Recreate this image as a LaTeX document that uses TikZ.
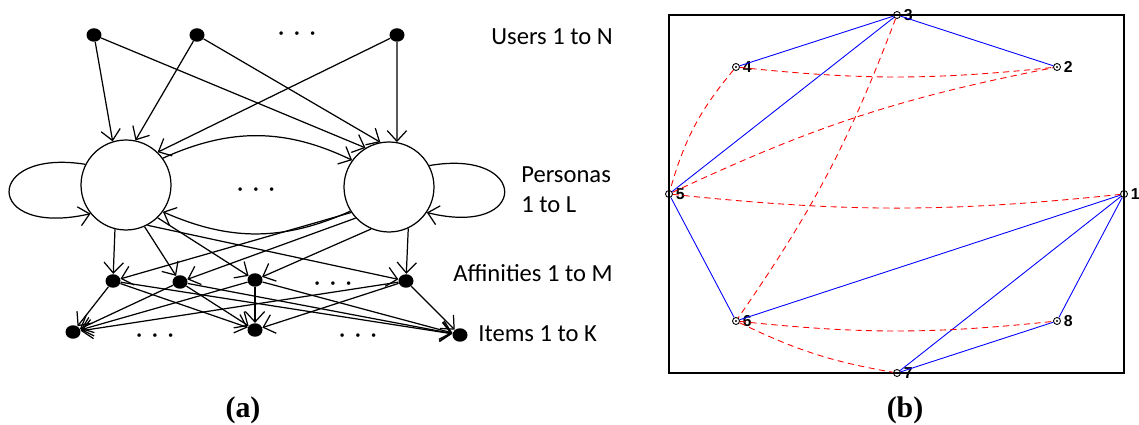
\documentclass[tikz,border=0pt]{standalone}
\usepackage{fontspec}
\setmainfont{Carlito}
\newfontfamily\capfont{Liberation Serif}
\newfontfamily\numfont{Liberation Sans}
\usetikzlibrary{arrows.meta, shapes.geometric}
\newcommand{\sepdots}{·\hspace{5.5pt}·\hspace{5.5pt}·}

\begin{document}
\begin{tikzpicture}[
  x=0.02cm, y=-0.02cm,
  udot/.style={ellipse, fill=black, inner sep=0pt, minimum width=0.3cm, minimum height=0.27cm},
  persona/.style={circle, draw, line width=0.7pt, minimum size=1.8cm, inner sep=0pt},
  link/.style={-{Straight Barb[length=6pt,width=11pt]}, line width=0.7pt},
  layertext/.style={anchor=base west, inner sep=0pt, font=\fontsize{14}{17}\selectfont},
  dotrow/.style={inner sep=0pt, font=\fontsize{14}{17}\selectfont},
  caption/.style={font=\capfont\bfseries\fontsize{17}{20}\selectfont},
  vtx/.style={circle, draw, line width=0.5pt, inner sep=0pt, minimum size=0.14cm,
    path picture={\fill (path picture bounding box.center) circle (0.6pt);},
    label={[font=\numfont\bfseries\fontsize{9}{10}\selectfont, inner sep=1.5pt]right:#1}},
  blueedge/.style={blue, line width=0.5pt},
  redcut/.style={red, line width=0.5pt, dash pattern=on 3.5pt off 2.5pt}
]
  \useasboundingbox (0,0) rectangle (1139,425);

  % (a) Users
  \node[udot] (u1) at (94,35) {};
  \node[udot] (u2) at (197,35) {};
  \node[udot] (u3) at (397,35) {};
  \node[dotrow] (udots) at (297,36) {\sepdots};

  % (a) Personas
  \node[persona] (p1) at (126,185) {};
  \node[persona] (p2) at (389,187) {};
  \node[dotrow] (pdots) at (256,192) {\sepdots};

  % (a) Affinities
  \foreach \n/\x/\y in {1/113/281, 2/180/282, 3/255/280, 4/406/281} {
    \node[udot] (a\n) at (\x,\y) {};
  }
  \node[dotrow] (adots) at (333,286) {\sepdots};

  % (a) Items
  \foreach \n/\x/\y in {1/73/332, 2/255/330, 3/460/335} {
    \node[udot] (i\n) at (\x,\y) {};
  }
  \node[dotrow] (idots1) at (155,338) {\sepdots};
  \node[dotrow] (idots2) at (358,338) {\sepdots};

  % Users -> personas
  \foreach \u/\a in {u1/107, u2/78, u3/46} {
    \draw[link] (\u) -- (p1.\a);
  }
  \foreach \u/\a in {u1/121, u2/101, u3/80} {
    \draw[link] (\u) -- (p2.\a);
  }

  % Persona <-> persona
  \draw[link] (p1.36) to[bend left=25] (p2.144);
  \draw[link] (p2.212) to[bend left=24] (p1.324);
  \draw[link] (p1.153) .. controls (-17,148) and (-17,238) .. (p1.219);
  \draw[link] (p2.28) .. controls (530,148) and (530,238) .. (p2.326);

  % Personas -> affinities
  \foreach \a/\n in {256/1, 294/2, 314/3, 298/4} {
    \draw[link] (p1.\a) -- (a\n);
  }
  \foreach \a/\n in {214/1, 223/2, 247/3, 295/4} {
    \draw[link] (p2.\a) -- (a\n);
  }

  % Affinities -> items
  \foreach \m in {1,...,4} {
    \foreach \k in {1,2,3} {
      \draw[link] (a\m) -- (i\k);
    }
  }

  % Layer names
  \node[layertext] (tusers) at (491,45) {Users 1 to N};
  \node[layertext, anchor=west, align=left] (tpersonas) at (521,190) {Personas\\1 to L};
  \node[layertext] (taff) at (453,282) {Affinities 1 to M};
  \node[layertext] (titems) at (478,342) {Items 1 to K};

  % (b) frame and vertices
  \draw[line width=0.6pt] (669,15) rectangle (1124,373);
  \foreach \n/\x/\y in {1/1124/194, 2/1057/67, 3/897/15, 4/736/67,
                        5/669/194, 6/736/321, 7/897/373, 8/1057/321} {
    \node[vtx=\n] (v\n) at (\x,\y) {};
  }

  % (b) solid edges
  \foreach \s/\t in {3/4, 3/2, 3/5, 5/6, 6/1, 1/7, 1/8, 8/7} {
    \draw[blueedge] (v\s) -- (v\t);
  }

  % (b) dashed edges
  \draw[redcut] (v4) to[bend right=6] (v2);
  \draw[redcut] (v5) to[bend right=6] (v1);
  \draw[redcut] (v6) to[bend right=6] (v8);
  \draw[redcut] (v4) to[bend right=12] (v5);
  \draw[redcut] (v3) to[bend left=7] (v6);
  \draw[redcut] (v5) to[bend left=7] (v2);
  \draw[redcut] (v6) to[bend right=8] (v7);

  % Captions
  \node[caption] (capa) at (243,410) {(a)};
  \node[caption] (capb) at (905,410) {(b)};
\end{tikzpicture}
\end{document}
